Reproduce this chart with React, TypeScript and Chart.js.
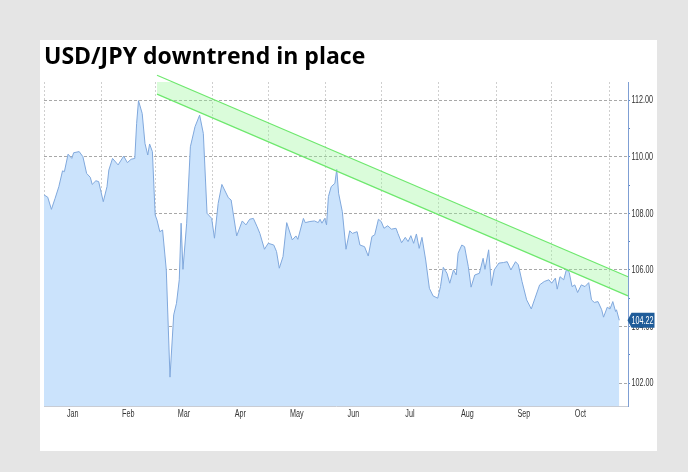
import React, { useEffect, useRef } from "react";
import { Chart, registerables } from "chart.js";

Chart.register(...registerables);

const titleText = "USD/JPY downtrend in place";

// day of year 2020 (0 = Jan 1) and USD/JPY close
const days = [
  0, 2, 4, 6, 8, 10, 11, 13, 15, 16, 19, 21, 23, 25, 26, 28, 29.5, 32, 34, 35, 37, 40, 43, 45, 47, 49,
  50, 51, 53, 54.5, 56, 57, 58.5, 60, 61, 62.5, 64, 66, 68, 70, 71.5, 73, 74, 75, 77, 79, 81.5, 84, 86,
  88, 90.5, 92, 94, 96, 99.5, 101, 104, 107, 109, 111, 113, 115, 116.5, 119, 121, 124, 125.5, 127, 129,
  131, 134, 136, 137, 140, 141, 143.5, 146, 148, 149, 150, 151.5, 152.5, 153.5, 155, 157, 158, 159, 161,
  163, 165, 166.5, 169, 170.5, 173, 175, 177, 178.5, 180.5, 182, 183.5, 185.5, 187.5, 190, 191, 193, 195,
  196.5, 198, 199.5, 201, 202.5, 204, 206, 208, 210, 212.5, 214, 215.5, 217.5, 219, 221, 222.5, 223.5,
  225.5, 227, 229, 230.5, 232.5, 235, 237, 238, 240, 241.5, 243, 245.5, 248, 250, 252, 254.5, 256, 258,
  260.5, 263, 265, 267.5, 270, 272.5, 274, 276, 277, 278.5, 280.5, 282, 283.5, 285, 286.5, 288, 290, 292,
  294, 295.5, 297, 299, 301, 302, 304, 305.5, 307, 308.5, 309, 310.5,
];
const prices = [
  108.65, 108.57, 108.14, 108.53, 108.94, 109.5, 109.47, 110.09, 109.94, 110.14, 110.18, 110.0, 109.41,
  109.27, 109.02, 109.15, 109.12, 108.41, 108.94, 109.53, 109.94, 109.71, 110.02, 109.79, 109.91, 109.94,
  111.18, 111.98, 111.53, 110.47, 110.06, 110.45, 110.18, 107.94, 107.76, 107.35, 107.41, 106.0, 102.21,
  104.41, 104.82, 105.65, 107.65, 106.02, 107.65, 110.35, 111.06, 111.47, 110.82, 108.0, 107.82, 107.12,
  108.35, 109.02, 108.55, 108.47, 107.2, 107.73, 107.59, 107.79, 107.82, 107.53, 107.29, 106.73, 106.94,
  106.88, 106.65, 106.06, 106.47, 107.67, 107.06, 107.2, 107.08, 107.82, 107.67, 107.71, 107.73, 107.67,
  107.79, 107.65, 107.82, 107.59, 108.59, 108.94, 109.06, 109.55, 108.71, 108.06, 106.73, 107.38, 107.29,
  107.35, 106.88, 106.82, 106.49, 107.18, 107.24, 107.79, 107.71, 107.47, 107.56, 107.44, 107.47, 107.29,
  106.96, 107.15, 107.0, 107.21, 106.94, 107.27, 106.76, 107.15, 106.35, 105.35, 105.08, 105.0, 105.41,
  106.09, 105.88, 105.53, 106.0, 105.82, 106.59, 106.88, 106.82, 106.12, 105.39, 105.82, 105.88, 106.41,
  106.02, 106.71, 105.45, 106.0, 106.24, 106.26, 106.29, 106.0, 106.29, 106.18, 105.59, 104.94, 104.62,
  105.0, 105.47, 105.59, 105.65, 105.53, 105.71, 105.32, 105.76, 105.65, 106.02, 105.9, 105.41, 105.47,
  105.2, 105.47, 105.41, 105.55, 104.94, 104.85, 104.88, 104.59, 104.33, 104.68, 104.62, 104.88, 104.53,
  104.59, 104.22,
];

// downtrend channel
const channelDays = [61, 315.2];
const channelUpper = [112.88, 105.76];
const channelLower = [112.21, 105.08];

const monthStarts = [0, 31, 60, 91, 121, 152, 182, 213, 244, 274, 305];
const monthLabels = ["Jan", "Feb", "Mar", "Apr", "May", "Jun", "Jul", "Aug", "Sep", "Oct", ""];
const yTicks = [102, 103, 104, 105, 106, 107, 108, 109, 110, 111, 112];
const yLabels = [102, 104, 106, 108, 110, 112];
const lastValue = prices[prices.length - 1];

const axisFont = '10px "Liberation Sans", Arial, sans-serif';
const squeeze = 0.72;

function narrowText(ctx: any, text: string, x: number, y: number) {
  ctx.save();
  ctx.translate(x, y);
  ctx.scale(squeeze, 1);
  ctx.fillText(text, 0, 0);
  ctx.restore();
}

const axisLabelPlugin = {
  id: "axisLabels",
  afterDraw(chart: any) {
    const { ctx, chartArea, scales } = chart;
    ctx.save();
    ctx.font = axisFont;
    ctx.fillStyle = "#333333";
    // right axis labels
    ctx.textAlign = "left";
    ctx.textBaseline = "middle";
    yLabels.forEach((v) => {
      narrowText(ctx, v.toFixed(2), chartArea.right + 3.5, scales.y.getPixelForValue(v) + 0.5);
    });
    // month labels, centred in each month
    ctx.textAlign = "center";
    ctx.textBaseline = "top";
    monthLabels.forEach((m, i) => {
      if (!m) return;
      const x0 = scales.x.getPixelForValue(monthStarts[i]);
      const x1 = scales.x.getPixelForValue(monthStarts[i + 1]);
      narrowText(ctx, m, (x0 + x1) / 2, chartArea.bottom + 3);
    });
    // last value marker
    const y = scales.y.getPixelForValue(lastValue);
    const x = chartArea.right + 0.5;
    const h = 15;
    const w = 26;
    ctx.fillStyle = "#1f5c99";
    ctx.beginPath();
    ctx.moveTo(x - 1, y);
    ctx.lineTo(x + 3, y - h / 2);
    ctx.lineTo(x + w, y - h / 2);
    ctx.lineTo(x + w, y + h / 2);
    ctx.lineTo(x + 3, y + h / 2);
    ctx.closePath();
    ctx.fill();
    ctx.fillStyle = "#ffffff";
    ctx.textAlign = "left";
    ctx.textBaseline = "middle";
    narrowText(ctx, lastValue.toFixed(2), x + 3, y + 0.5);
    ctx.restore();
  },
};

export default function App() {
  const canvasRef = useRef<HTMLCanvasElement | null>(null);

  useEffect(() => {
    if (!canvasRef.current) return;
    const chart = new Chart(canvasRef.current, {
      type: "line",
      data: {
        datasets: [
          {
            data: channelDays.map((d, i) => ({ x: d, y: channelUpper[i] })),
            borderColor: "rgb(110,232,110)",
            borderWidth: 1.2,
            pointRadius: 0,
            fill: false,
            clip: false as any,
          },
          {
            data: channelDays.map((d, i) => ({ x: d, y: channelLower[i] })),
            borderColor: "rgb(110,232,110)",
            borderWidth: 1.2,
            pointRadius: 0,
            backgroundColor: "rgba(150,245,150,0.35)",
            fill: "-1",
            clip: false as any,
          },
          {
            data: days.map((d, i) => ({ x: d, y: prices[i] })),
            borderColor: "rgb(128,168,220)",
            borderWidth: 1,
            pointRadius: 0,
            tension: 0,
            backgroundColor: "rgb(203,227,252)",
            fill: "start",
          },
        ],
      },
      options: {
        animation: false,
        responsive: false,
        events: [],
        layout: { padding: { left: 4, right: 0, top: 0, bottom: 0 } },
        plugins: {
          legend: { display: false },
          tooltip: { enabled: false },
          title: {
            display: true,
            text: titleText,
            align: "start",
            color: "#000",
            font: { family: '"Open Sans", sans-serif', size: 23, weight: "bold", lineHeight: 1.2 },
            padding: { top: 4, bottom: 10.4 },
          },
        },
        scales: {
          x: {
            type: "linear",
            min: 0,
            max: 315.2,
            afterBuildTicks(scale: any) {
              scale.ticks = monthStarts.map((v) => ({ value: v }));
            },
            afterFit(scale: any) {
              scale.height = 45;
              scale.paddingLeft = 0;
              scale.paddingRight = 0;
            },
            ticks: { display: false },
            grid: { color: "#cfcfcf", drawTicks: false, lineWidth: 1 },
            border: { display: true, color: "#c8ccd4", dash: [2, 2] },
          },
          y: {
            type: "linear",
            position: "right",
            min: 101.19,
            max: 112.64,
            afterBuildTicks(scale: any) {
              scale.ticks = yTicks.map((v) => ({ value: v }));
            },
            afterFit(scale: any) {
              scale.width = 29;
              scale.paddingTop = 0;
              scale.paddingBottom = 0;
            },
            ticks: { display: false },
            grid: {
              color: (c: any) => (c.tick && c.tick.value % 2 === 0 ? "#a8a8a8" : "rgba(0,0,0,0)"),
              tickColor: "#5a86c8",
              tickLength: 2,
              drawTicks: true,
            },
            border: { display: true, color: "#7f9fd4", dash: [3, 2] },
          },
        },
      },
      plugins: [axisLabelPlugin],
    } as any);
    return () => chart.destroy();
  }, []);

  return (
    <div
      style={{
        position: "absolute",
        left: 0,
        top: 0,
        width: 688,
        height: 472,
        background: "#e5e5e5",
      }}
    >
      <div
        style={{
          position: "absolute",
          left: 40,
          top: 40,
          width: 617,
          height: 411,
          background: "#ffffff",
        }}
      >
        <canvas ref={canvasRef} width={617} height={411} style={{ display: "block" }} />
      </div>
    </div>
  );
}
